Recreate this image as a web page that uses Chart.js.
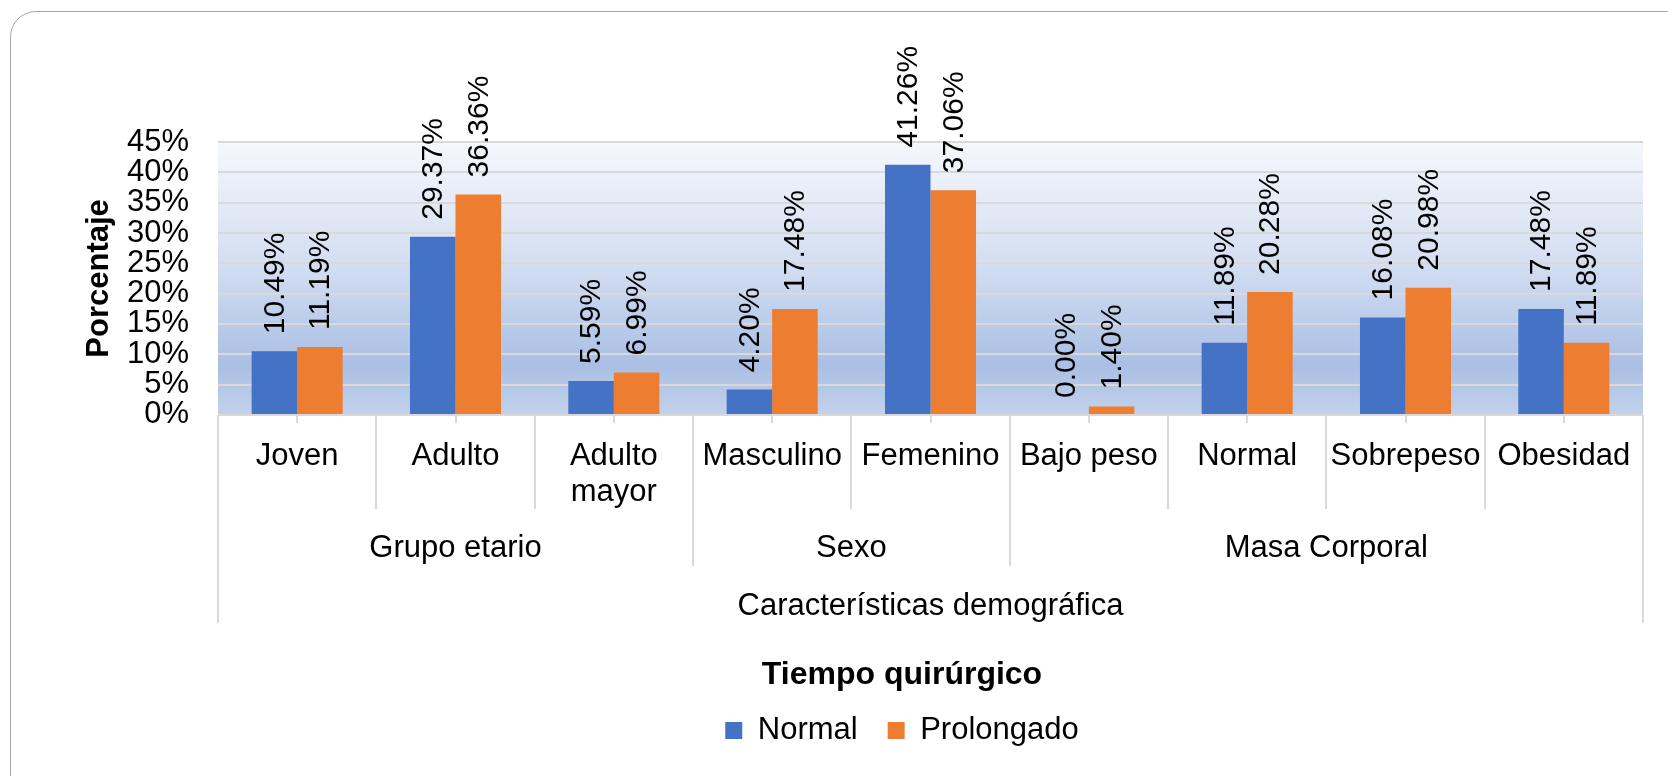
<!DOCTYPE html>
<html>
<head>
<meta charset="utf-8">
<script src="https://cdn.jsdelivr.net/npm/chart.js@4.4.1/dist/chart.umd.min.js"></script>
<style>
  html, body { margin: 0; padding: 0; background: #ffffff; overflow: hidden; }
  #wrap { position: relative; width: 1668px; height: 776px; }
  #frame { position: absolute; left: 10px; top: 11px; width: 1700px; height: 800px;
           border: 1.5px solid #a6a6a6; border-radius: 26px; box-sizing: border-box; pointer-events: none; }
  canvas { position: absolute; left: 0; top: 0; }
</style>
</head>
<body>
<div id="wrap">
  <canvas id="c" width="1668" height="776"></canvas>
  <div id="frame"></div>
</div>
<script>
// ---- Data ----
const categories = ['Joven', 'Adulto', ['Adulto', 'mayor'], 'Masculino', 'Femenino', 'Bajo peso', 'Normal', 'Sobrepeso', 'Obesidad'];
const groups = ['Grupo etario', 'Sexo', 'Masa Corporal'];
const groupSizes = [3, 2, 4];
const normalValues = [10.49, 29.37, 5.59, 4.20, 41.26, 0.00, 11.89, 16.08, 17.48];
const prolongadoValues = [11.19, 36.36, 6.99, 17.48, 37.06, 1.40, 20.28, 20.98, 11.89];
const seriesNames = ['Normal', 'Prolongado'];
const xAxisTitle = 'Características demográfica';
const yAxisTitle = 'Porcentaje';
const legendTitle = 'Tiempo quirúrgico';

const FONT = "'Liberation Sans', Arial, sans-serif";
const GRID = '#d9d9d9';

const bgPlugin = {
  id: 'bg',
  beforeDraw(chart) {
    const {ctx, chartArea: a} = chart;
    const g = ctx.createLinearGradient(0, a.top, 0, a.bottom);
    g.addColorStop(0, '#f5f7fc');
    g.addColorStop(0.45, '#d3def1');
    g.addColorStop(0.82, '#aabfe4');
    g.addColorStop(1, '#c3d2ec');
    ctx.save();
    ctx.fillStyle = g;
    ctx.fillRect(a.left, a.top, a.right - a.left, a.bottom - a.top);
    ctx.restore();
  }
};

const labelsPlugin = {
  id: 'valueLabels',
  afterDatasetsDraw(chart) {
    const {ctx} = chart;
    ctx.save();
    ctx.font = '30px ' + FONT;
    ctx.fillStyle = '#000000';
    ctx.textAlign = 'left';
    ctx.textBaseline = 'middle';
    chart.data.datasets.forEach((ds, di) => {
      const meta = chart.getDatasetMeta(di);
      meta.data.forEach((bar, i) => {
        const txt = ds.data[i].toFixed(2) + '%';
        ctx.save();
        ctx.translate(bar.x, bar.y - 17);
        ctx.rotate(-Math.PI / 2);
        ctx.fillText(txt, 0, 1);
        ctx.restore();
      });
    });
    ctx.restore();
  }
};

const xAxisPlugin = {
  id: 'multiAxis',
  afterDraw(chart) {
    const {ctx, chartArea: a} = chart;
    const xs = chart.scales.x;
    const w = xs.getPixelForValue(1) - xs.getPixelForValue(0);
    const base = a.bottom;
    const yCat = base + 94, yGrp = base + 151, yOut = base + 208;
    ctx.save();
    ctx.strokeStyle = GRID;
    ctx.lineWidth = 2;
    const groupEdges = [];
    let acc = 0;
    groupSizes.forEach(s => { acc += s; groupEdges.push(acc); });
    for (let i = 0; i <= categories.length; i++) {
      const x = Math.round(xs.getPixelForValue(i) - w / 2);
      let end = yCat;
      if (i === 0 || i === categories.length) end = yOut;
      else if (groupEdges.includes(i)) end = yGrp;
      ctx.beginPath();
      ctx.moveTo(x, base);
      ctx.lineTo(x, end);
      ctx.stroke();
    }
    for (let i = 0; i < categories.length; i++) {
      const x = Math.round(xs.getPixelForValue(i));
      ctx.beginPath();
      ctx.moveTo(x, base);
      ctx.lineTo(x, base + 8);
      ctx.stroke();
    }
    ctx.fillStyle = '#000000';
    ctx.font = '31px ' + FONT;
    ctx.textAlign = 'center';
    ctx.textBaseline = 'alphabetic';
    categories.forEach((c, i) => {
      const x = xs.getPixelForValue(i);
      const lines = Array.isArray(c) ? c : [c];
      lines.forEach((ln, k) => ctx.fillText(ln, x, base + 50 + k * 36));
    });
    let start = 0;
    groups.forEach((g, gi) => {
      const s = groupSizes[gi];
      const x0 = xs.getPixelForValue(start) - w / 2;
      const x1 = xs.getPixelForValue(start + s - 1) + w / 2;
      ctx.fillText(g, (x0 + x1) / 2, base + 142);
      start += s;
    });
    ctx.fillText(xAxisTitle, (a.left + a.right) / 2, base + 200);
    ctx.restore();
  }
};

const legendShift = {
  id: 'legendShift',
  afterLayout(chart) {
    const lg = chart.legend;
    if (!lg) return;
    const target = 902;
    const c = (lg.left + lg.right) / 2;
    const d = target - c;
    lg.left += d; lg.right += d;
  }
};

new Chart(document.getElementById('c'), {
  type: 'bar',
  data: {
    labels: categories,
    datasets: [
      { label: seriesNames[0], data: normalValues, backgroundColor: '#4472c4', borderWidth: 0,
        categoryPercentage: 0.575, barPercentage: 1.0 },
      { label: seriesNames[1], data: prolongadoValues, backgroundColor: '#ed7d31', borderWidth: 0,
        categoryPercentage: 0.575, barPercentage: 1.0 }
    ]
  },
  options: {
    responsive: false,
    animation: false,
    devicePixelRatio: 1,
    layout: { padding: { top: 142, right: 25, left: 0, bottom: 20 } },
    plugins: {
      tooltip: { enabled: false },
      legend: {
        position: 'bottom',
        labels: {
          font: { family: FONT, size: 31 },
          color: '#000000',
          boxWidth: 17,
          boxHeight: 17,
          padding: 30
        },
        title: {
          display: true,
          text: legendTitle,
          color: '#000000',
          font: { family: FONT, size: 32, weight: 'bold', lineHeight: 0.8 },
          padding: { top: 0, bottom: 0 }
        }
      }
    },
    scales: {
      x: {
        grid: { display: false },
        border: { display: false },
        ticks: { display: false },
        afterFit(s) { s.height = 244.5; }
      },
      y: {
        min: 0,
        max: 45,
        ticks: {
          stepSize: 5,
          autoSkip: false,
          color: '#000000',
          font: { family: FONT, size: 31 },
          padding: 29,
          callback: v => v + '%'
        },
        grid: { color: GRID, lineWidth: 2, drawTicks: false },
        border: { display: false },
        title: {
          display: true,
          text: yAxisTitle,
          color: '#000000',
          font: { family: FONT, size: 31, weight: 'bold' },
          padding: { top: 81, bottom: 0 }
        },
        afterFit(s) { s.width = 218; }
      }
    }
  },
  plugins: [bgPlugin, labelsPlugin, xAxisPlugin, legendShift]
});
</script>
</body>
</html>
